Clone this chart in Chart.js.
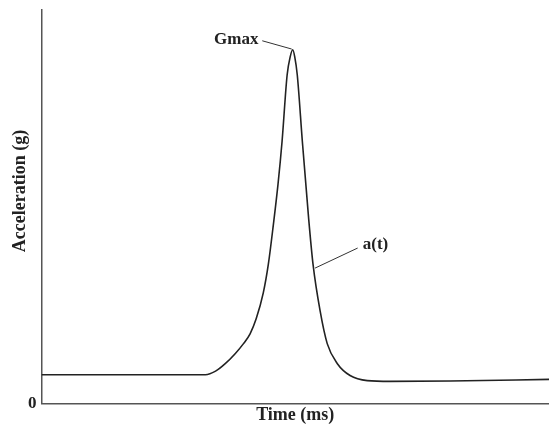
<!DOCTYPE html>
<html>
<head>
<meta charset="utf-8">
<script src="https://cdn.jsdelivr.net/npm/chart.js@4/dist/chart.umd.min.js"></script>
<style>
  html, body { margin: 0; padding: 0; background: #fff; }
  canvas { display: block; }
</style>
</head>
<body>
<canvas id="myChart" width="549" height="428"></canvas>
<script>
"use strict";

// time (ms, arbitrary units) and acceleration (g, arbitrary units)
const time_ms = [0, 15.6, 32.3, 34.3, 36.2, 38.2, 39.8, 41.1, 42.3, 43.7, 44.7, 45.7, 46.6, 47.4, 48.4,
    49.0, 49.5, 49.9, 50.4, 51.4, 52.6, 53.5, 54.9, 56.3, 58.3, 60.8, 64.2, 68.7, 80.5, 100];
const accel_g = [7.3, 7.3, 7.3, 8.2, 10.1, 12.7, 15.2, 17.7, 21.5, 28.1, 35.4, 45.6, 55.7, 66.6, 83.5,
    88.1, 89.9, 88.1, 83.5, 66.6, 47.6, 35.4, 23.5, 15.2, 10.1, 7.1, 5.8, 5.6, 5.7, 6.1];
const y_ticks = [0];
const y_title = "Acceleration (g)";

// callout labels: text, text anchor point and the point on the curve the leader line goes to
const callouts = [
    { text: "Gmax", tx: 34.0, ty: 92.4, lx: 43.5, ly: 92.2, px: 49.3, py: 90.1 },
    { text: "a(t)", tx: 63.3, ty: 40.5, lx: 62.3, ly: 39.5, px: 53.9, py: 34.4 }
];

const serif = "'Liberation Serif', 'DejaVu Serif', serif";

let points = [];
for (let i = 0; i < time_ms.length; i++) {
    points.push({ x: time_ms[i], y: accel_g[i] });
}

const calloutPlugin = {
    id: "callouts",
    afterDatasetsDraw(chart) {
        const ctx = chart.ctx;
        const xs = chart.scales.x;
        const ys = chart.scales.y;
        ctx.save();
        ctx.font = "bold 17px " + serif;
        ctx.fillStyle = "#222";
        ctx.strokeStyle = "#333";
        ctx.lineWidth = 1;
        callouts.forEach(c => {
            ctx.beginPath();
            ctx.moveTo(xs.getPixelForValue(c.lx), ys.getPixelForValue(c.ly));
            ctx.lineTo(xs.getPixelForValue(c.px), ys.getPixelForValue(c.py));
            ctx.stroke();
            ctx.textBaseline = "middle";
            ctx.textAlign = "left";
            ctx.fillText(c.text, xs.getPixelForValue(c.tx), ys.getPixelForValue(c.ty));
        });

        // y axis title, sits a bit above the middle of the axis
        ctx.font = "bold 18px " + serif;
        ctx.translate(20, ys.getPixelForValue(54));
        ctx.rotate(-Math.PI / 2);
        ctx.textAlign = "center";
        ctx.textBaseline = "middle";
        ctx.fillText(y_title, 0, 0);
        ctx.restore();
    }
};

var ctx = document.getElementById("myChart").getContext("2d");
new Chart(ctx, {
    type: "line",
    data: {
        datasets: [
            {
                label: "a(t)",
                data: points,
                borderColor: "#222",
                borderWidth: 1.6,
                pointRadius: 0,
                fill: false,
                cubicInterpolationMode: "monotone"
            }
        ]
    },
    options: {
        responsive: false,
        animation: false,
        layout: { padding: { top: 8, right: 0, left: 23, bottom: 2 } },
        plugins: {
            legend: { display: false },
            tooltip: { enabled: false }
        },
        scales: {
            x: {
                type: "linear",
                min: 0,
                max: 100,
                grid: { display: false, drawTicks: false },
                border: { display: true, color: "#555", width: 1.5 },
                ticks: { display: false },
                title: {
                    display: true,
                    text: "Time (ms)",
                    color: "#222",
                    font: { family: serif, size: 18, weight: "bold" },
                    padding: { top: 1, bottom: 0 }
                }
            },
            y: {
                min: 0,
                max: 100,
                grid: { display: false, drawTicks: false },
                border: { display: true, color: "#555", width: 1.5 },
                afterBuildTicks: axis => {
                    axis.ticks = y_ticks.map(v => ({ value: v }));
                },
                ticks: {
                    color: "#222",
                    padding: 5,
                    font: { family: serif, size: 17, weight: "bold", lineHeight: 0.6 }
                },
                title: { display: false }
            }
        }
    },
    plugins: [calloutPlugin]
});
</script>
</body>
</html>
